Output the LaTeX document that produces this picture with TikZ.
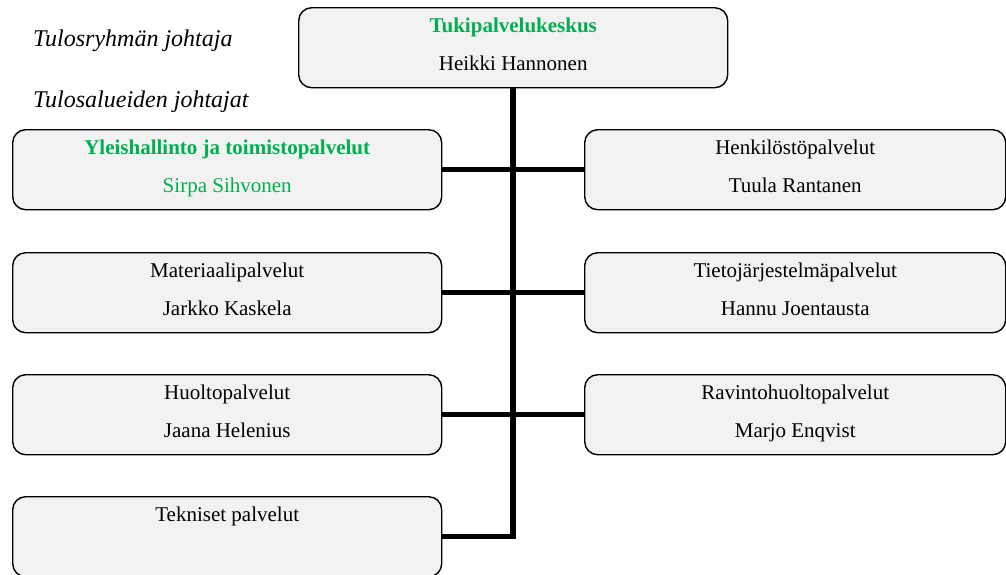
\documentclass[tikz,border=0pt]{standalone}
\usepackage{fontspec}
\setmainfont{Liberation Serif}
\usetikzlibrary{calc}
\definecolor{unitgreen}{RGB}{0,176,80}
\definecolor{boxfill}{RGB}{242,242,242}
\begin{document}
\begin{tikzpicture}[x=1pt,y=-1pt,
  unitbox/.style={draw=black, line width=1.4pt, fill=boxfill, rounded corners=13pt,
    minimum width=#1, minimum height=80pt, inner sep=0pt, anchor=north west},
  unitbox/.default=429pt,
  txt/.style={anchor=base, inner sep=0pt, font=\fontsize{21}{25}\selectfont},
  head/.style={txt, text=unitgreen, font=\fontsize{21}{25}\selectfont\bfseries},
  note/.style={anchor=base west, inner sep=0pt, font=\fontsize{24}{28}\selectfont\itshape},
  conn/.style={draw=black, line width=5.5pt, line join=miter}]
\useasboundingbox (0,0) rectangle (1006,574);
\clip (0,0) rectangle (1006,574);

% side headings
\node[note] (lead) at (33,46) {Tulosryhmän johtaja};
\node[note] (areas) at (33,107) {Tulosalueiden johtajat};

% unit boxes
\node[unitbox] (top) at (298,7) {};
\node[unitbox] (l1) at (12,129) {};
\node[unitbox] (l2) at (12,252) {};
\node[unitbox] (l3) at (12,374) {};
\node[unitbox] (l4) at (12,496) {};
\node[unitbox=421pt] (r1) at (584,129) {};
\node[unitbox=421pt] (r2) at (584,252) {};
\node[unitbox=421pt] (r3) at (584,374) {};

% connectors
\draw[conn] (top.south) |- (l4.east);
\draw[conn] (l1.east) -- (r1.west);
\draw[conn] (l2.east) -- (r2.west);
\draw[conn] (l3.east) -- (r3.west);

% box texts
\node[head] (topA) at ($(top.north)+(0,25)$) {Tukipalvelukeskus};
\node[txt]  (topB) at ($(top.north)+(0,63)$) {Heikki Hannonen};
\node[head] (l1A) at ($(l1.north)+(0,25)$) {Yleishallinto ja toimistopalvelut};
\node[txt, text=unitgreen] (l1B) at ($(l1.north)+(0,63)$) {Sirpa Sihvonen};
\node[txt] (l2A) at ($(l2.north)+(0,25)$) {Materiaalipalvelut};
\node[txt] (l2B) at ($(l2.north)+(0,63)$) {Jarkko Kaskela};
\node[txt] (l3A) at ($(l3.north)+(0,25)$) {Huoltopalvelut};
\node[txt] (l3B) at ($(l3.north)+(0,63)$) {Jaana Helenius};
\node[txt] (l4A) at ($(l4.north)+(0,25)$) {Tekniset palvelut};
\node[txt] (r1A) at ($(r1.north)+(0,25)$) {Henkilöstöpalvelut};
\node[txt] (r1B) at ($(r1.north)+(0,63)$) {Tuula Rantanen};
\node[txt] (r2A) at ($(r2.north)+(0,25)$) {Tietojärjestelmäpalvelut};
\node[txt] (r2B) at ($(r2.north)+(0,63)$) {Hannu Joentausta};
\node[txt] (r3A) at ($(r3.north)+(0,25)$) {Ravintohuoltopalvelut};
\node[txt] (r3B) at ($(r3.north)+(0,63)$) {Marjo Enqvist};
\end{tikzpicture}
\end{document}
